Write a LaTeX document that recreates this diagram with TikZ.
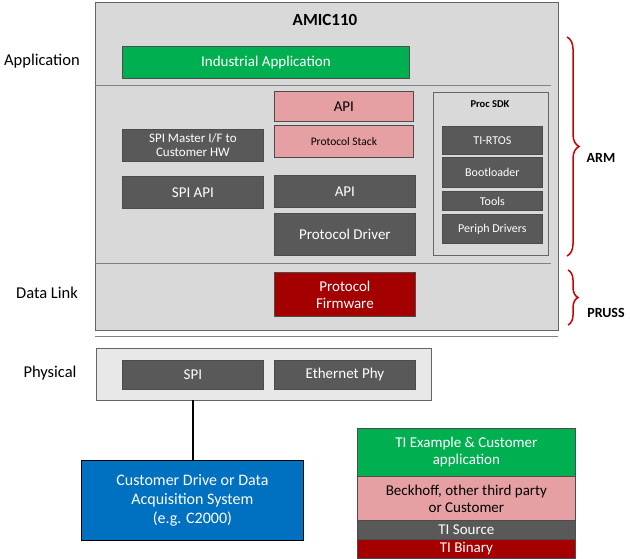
\documentclass[tikz,border=0pt]{standalone}
\usepackage{fontspec}
\setmainfont{Carlito}
\usetikzlibrary{decorations.pathreplacing}
\definecolor{bg}{HTML}{D9D9D9}
\definecolor{dk}{HTML}{595959}
\definecolor{pk}{HTML}{E6A0A3}
\definecolor{gr}{HTML}{00B050}
\definecolor{rd}{HTML}{A50000}
\definecolor{bl}{HTML}{0070C0}
\begin{document}
\begin{tikzpicture}[x=1pt,y=-1pt,
 box/.style={draw=black!70,line width=0.8pt,anchor=north west,inner sep=0pt,align=center,text=white,font=\fontsize{15}{17}\selectfont},
 dbox/.style={box,fill=dk},
 pbox/.style={box,fill=pk,text=black},
 lbl/.style={font=\fontsize{16.5}{18}\selectfont}]
\useasboundingbox (0,0) rectangle (630,559);
\node[draw=black!60,fill=bg,anchor=north west,minimum width=463pt,minimum height=328pt,inner sep=0pt] (amic) at (95,2) {};
\node[font=\bfseries\fontsize{17}{19}\selectfont] (t) at (325,20) {AMIC110};
\draw[black!50] (95,85) -- (551,85);
\draw[black!50] (95,263) -- (551,263);
\node[box,fill=gr,minimum width=287pt,minimum height=32pt] (ia) at (122,46) {Industrial Application};
\node[pbox,minimum width=139pt,minimum height=30pt] (api1) at (274,91) {API};
\node[pbox,minimum width=139pt,minimum height=32pt,font=\fontsize{11.5}{13}\selectfont] (ps) at (274,125) {Protocol Stack};
\node[dbox,minimum width=141pt,minimum height=32pt,font=\fontsize{13}{14}\selectfont] (spim) at (122,129) {SPI Master I/F to\\Customer HW};
\node[dbox,minimum width=141pt,minimum height=32pt] (spiapi) at (122,176) {SPI API};
\node[dbox,minimum width=141pt,minimum height=32pt] (api2) at (274,175) {API};
\node[dbox,minimum width=141pt,minimum height=42pt] (pd) at (274,213) {Protocol Driver};
\node[draw=black!60,fill=bg,anchor=north west,minimum width=115pt,minimum height=163pt,inner sep=0pt] (sdk) at (433,92) {};
\node[font=\bfseries\fontsize{10.5}{12}\selectfont] (sdkl) at (490,104) {Proc SDK};
\node[dbox,minimum width=100pt,minimum height=28pt,font=\fontsize{12}{13}\selectfont] (rtos) at (442,126) {TI-RTOS};
\node[dbox,minimum width=100pt,minimum height=30pt,font=\fontsize{12}{13}\selectfont] (boot) at (442,157) {Bootloader};
\node[dbox,minimum width=100pt,minimum height=19pt,font=\fontsize{12}{13}\selectfont] (tools) at (442,191) {Tools};
\node[dbox,minimum width=100pt,minimum height=29pt,font=\fontsize{12}{13}\selectfont] (per) at (442,214) {Periph Drivers};
\node[box,fill=rd,minimum width=141pt,minimum height=44pt] (pf) at (274,272) {Protocol\\Firmware};
\draw[black!50] (95,336) -- (558,336);
\node[draw=black!60,fill=bg!60,anchor=north west,minimum width=335pt,minimum height=52pt,inner sep=0pt] (phy) at (96,348) {};
\node[dbox,minimum width=141pt,minimum height=29pt] (spi) at (122,360) {SPI};
\node[dbox,minimum width=141pt,minimum height=29pt] (eth) at (274,360) {Ethernet Phy};
\node[box,fill=bl,draw=black,minimum width=222pt,minimum height=80pt,font=\fontsize{16}{19}\selectfont] (cust) at (81,460) {Customer Drive or Data\\Acquisition System\\(e.g. C2000)};
\draw[line width=2pt] (phy.south -| spi.south) -- (cust.north -| spi.south);
\node[box,fill=gr,minimum width=218pt,minimum height=48pt] (l1) at (357,428) {TI Example \& Customer\\application};
\node[pbox,minimum width=218pt,minimum height=44pt] (l2) at (357,476) {Beckhoff, other third party\\or Customer};
\node[dbox,minimum width=218pt,minimum height=19pt] (l3) at (357,520) {TI Source};
\node[box,fill=rd,minimum width=218pt,minimum height=19pt] (l4) at (357,539) {TI Binary};
\node[lbl] (la) at (42,61) {Application};
\node[lbl] (ld) at (47,293) {Data Link};
\node[lbl] (lp) at (50,373) {Physical};
\draw[red!80!black,line width=1.5pt,decorate,decoration={brace,amplitude=12pt}] (567,37) -- (567,256);
\node[font=\bfseries\fontsize{14}{16}\selectfont] (arm) at (601,158) {ARM};
\draw[red!80!black,line width=1.5pt,decorate,decoration={brace,amplitude=10pt}] (568,270) -- (568,325);
\node[font=\bfseries\fontsize{14}{16}\selectfont] (pru) at (606,313) {PRUSS};
\end{tikzpicture}
\end{document}
